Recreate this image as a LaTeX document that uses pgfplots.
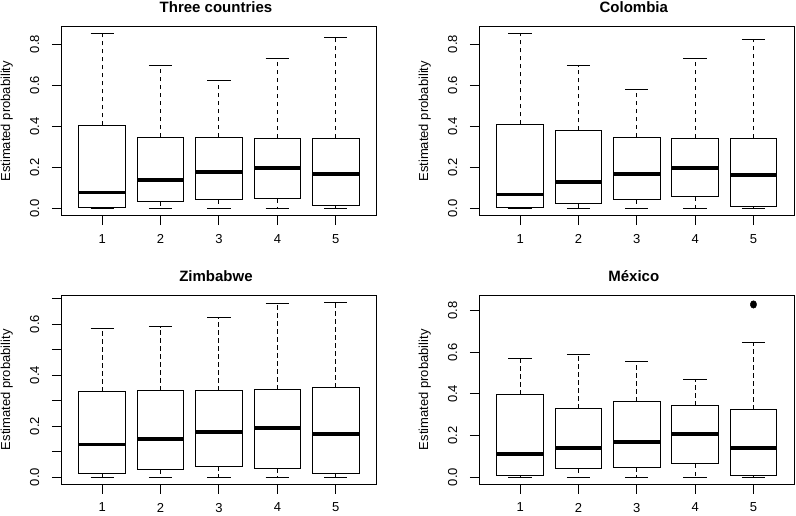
\documentclass[border=0pt]{standalone}
\usepackage{fontspec}
\setmainfont{Liberation Sans}
\usepackage{pgfplots}
\pgfplotsset{compat=1.18}
\usepgfplotslibrary{statistics}
\newcommand{\lab}{\fontsize{13}{15}\selectfont}
\pgfplotsset{
  rpanel/.style={
    scale only axis, width=315.4pt, height=188.5pt,
    xmin=0.3, xmax=5.7,
    axis line style={line width=1pt, black},
    tick align=outside, tick pos=left,
    major tick length=9.5pt,
    every tick/.style={black, line width=1pt},
    xtick={1,2,3,4,5},
    xticklabels={1,2,3,4,5},
    xticklabel style={font=\lab},
    xticklabel shift=6pt,
    yticklabel style={font=\lab, rotate=90, anchor=south},
    yticklabel shift=9pt,
    ylabel={Estimated probability},
    ylabel style={font=\lab, at={(axis description cs:-0.173,0.5)}, anchor=center},
    title style={font=\bfseries\fontsize{15}{18}\selectfont, at={(axis description cs:0.5,1)}, anchor=base, yshift=8pt, xshift=-3pt},
    clip=false,
    boxplot/draw direction=y,
    boxplot/box extend=0.8,
    boxplot/whisker extend=0.4,
    boxplot/draw/median/.code={%
      \draw[line width=3.8pt, line cap=butt] (boxplot box cs:\pgfplotsboxplotvalue{median},0) -- (boxplot box cs:\pgfplotsboxplotvalue{median},1);},
    boxplot/draw/lower whisker/.code={%
      \draw[line width=1pt, dash pattern=on 4.5pt off 3.5pt] (boxplot box cs:\pgfplotsboxplotvalue{lower quartile},0.5) -- (boxplot box cs:\pgfplotsboxplotvalue{lower whisker},0.5);
      \draw[line width=1pt] (boxplot whisker cs:\pgfplotsboxplotvalue{lower whisker},0) -- (boxplot whisker cs:\pgfplotsboxplotvalue{lower whisker},1);},
    boxplot/draw/upper whisker/.code={%
      \draw[line width=1pt, dash pattern=on 4.5pt off 3.5pt] (boxplot box cs:\pgfplotsboxplotvalue{upper quartile},0.5) -- (boxplot box cs:\pgfplotsboxplotvalue{upper whisker},0.5);
      \draw[line width=1pt] (boxplot whisker cs:\pgfplotsboxplotvalue{upper whisker},0) -- (boxplot whisker cs:\pgfplotsboxplotvalue{upper whisker},1);},
  },
  rb/.style={black, solid, line width=1pt, mark=none, boxplot/draw direction=y},
}
\begin{document}
\begin{tikzpicture}
\path[use as bounding box] (0,0) rectangle (796pt,515pt);
% Panel 1
\begin{axis}[rpanel, at={(61.3pt,299.5pt)}, anchor=south west,
  title={Three countries}, ymin=-0.034, ymax=0.883,
  ytick={0,0.2,0.4,0.6,0.8}, yticklabels={0.0,0.2,0.4,0.6,0.8}]
\addplot[rb, boxplot prepared={lower whisker=0, lower quartile=0.005, median=0.078, upper quartile=0.404, upper whisker=0.849, draw position=1}] coordinates {};
\addplot[rb, boxplot prepared={lower whisker=0, lower quartile=0.034, median=0.140, upper quartile=0.347, upper whisker=0.695, draw position=2}] coordinates {};
\addplot[rb, boxplot prepared={lower whisker=0, lower quartile=0.042, median=0.178, upper quartile=0.347, upper whisker=0.623, draw position=3}] coordinates {};
\addplot[rb, boxplot prepared={lower whisker=0, lower quartile=0.047, median=0.198, upper quartile=0.342, upper whisker=0.729, draw position=4}] coordinates {};
\addplot[rb, boxplot prepared={lower whisker=0, lower quartile=0.013, median=0.169, upper quartile=0.342, upper whisker=0.834, draw position=5}] coordinates {};
\end{axis}
% Panel 2
\begin{axis}[rpanel, at={(479.3pt,299.5pt)}, anchor=south west, width=315pt,
  title={Colombia}, ymin=-0.034, ymax=0.883,
  ytick={0,0.2,0.4,0.6,0.8}, yticklabels={0.0,0.2,0.4,0.6,0.8}]
\addplot[rb, boxplot prepared={lower whisker=0, lower quartile=0.005, median=0.068, upper quartile=0.409, upper whisker=0.849, draw position=1}] coordinates {};
\addplot[rb, boxplot prepared={lower whisker=0, lower quartile=0.024, median=0.130, upper quartile=0.380, upper whisker=0.695, draw position=2}] coordinates {};
\addplot[rb, boxplot prepared={lower whisker=0, lower quartile=0.042, median=0.169, upper quartile=0.347, upper whisker=0.578, draw position=3}] coordinates {};
\addplot[rb, boxplot prepared={lower whisker=0, lower quartile=0.057, median=0.198, upper quartile=0.342, upper whisker=0.729, draw position=4}] coordinates {};
\addplot[rb, boxplot prepared={lower whisker=0, lower quartile=0.010, median=0.164, upper quartile=0.342, upper whisker=0.824, draw position=5}] coordinates {};
\end{axis}
% Panel 3
\begin{axis}[rpanel, at={(61.3pt,31pt)}, anchor=south west,
  title={Zimbabwe}, ymin=-0.0274, ymax=0.7124,
  ytick={0,0.1,0.2,0.3,0.4,0.5,0.6,0.7}, yticklabels={0.0,,0.2,,0.4,,0.6,}]
\addplot[rb, boxplot prepared={lower whisker=0, lower quartile=0.014, median=0.128, upper quartile=0.334, upper whisker=0.584, draw position=1}] coordinates {};
\addplot[rb, boxplot prepared={lower whisker=0, lower quartile=0.031, median=0.148, upper quartile=0.338, upper whisker=0.590, draw position=2}] coordinates {};
\addplot[rb, boxplot prepared={lower whisker=0, lower quartile=0.043, median=0.176, upper quartile=0.338, upper whisker=0.628, draw position=3}] coordinates {};
\addplot[rb, boxplot prepared={lower whisker=0, lower quartile=0.035, median=0.191, upper quartile=0.342, upper whisker=0.681, draw position=4}] coordinates {};
\addplot[rb, boxplot prepared={lower whisker=0, lower quartile=0.014, median=0.168, upper quartile=0.350, upper whisker=0.685, draw position=5}] coordinates {};
\end{axis}
% Panel 4
\begin{axis}[rpanel, at={(479.3pt,31pt)}, anchor=south west, width=315pt,
  title={México}, ymin=-0.0336, ymax=0.8736,
  ytick={0,0.2,0.4,0.6,0.8}, yticklabels={0.0,0.2,0.4,0.6,0.8}]
\addplot[rb, boxplot prepared={lower whisker=0, lower quartile=0.005, median=0.112, upper quartile=0.395, upper whisker=0.572, draw position=1}] coordinates {};
\addplot[rb, boxplot prepared={lower whisker=0, lower quartile=0.039, median=0.141, upper quartile=0.328, upper whisker=0.588, draw position=2}] coordinates {};
\addplot[rb, boxplot prepared={lower whisker=0, lower quartile=0.048, median=0.170, upper quartile=0.363, upper whisker=0.557, draw position=3}] coordinates {};
\addplot[rb, boxplot prepared={lower whisker=0, lower quartile=0.063, median=0.206, upper quartile=0.342, upper whisker=0.467, draw position=4}] coordinates {};
\addplot[rb, boxplot prepared={lower whisker=0, lower quartile=0.005, median=0.141, upper quartile=0.323, upper whisker=0.649, draw position=5}] coordinates {};
\addplot[only marks, mark=*, mark size=3pt, black] coordinates {(5,0.827) (5,0.834)};
\end{axis}
\end{tikzpicture}
\end{document}
